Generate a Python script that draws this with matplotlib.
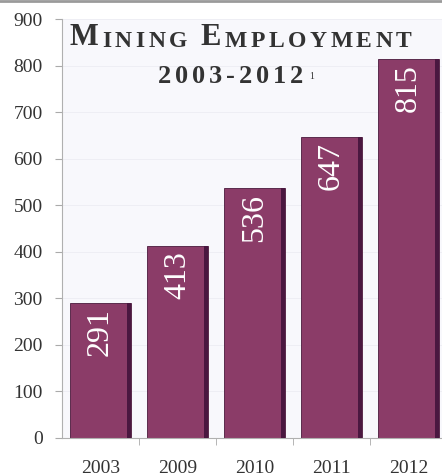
from matplotlib import pyplot as plt
from matplotlib.lines import Line2D
import numpy as np

years = ['2003', '2009', '2010', '2011', '2012']
employment = [291, 413, 536, 647, 815]
yticks = [0, 100, 200, 300, 400, 500, 600, 700, 800, 900]

bar_color = '#8b3c68'
shade_color = '#4a1740'
text_color = '#333333'
serif = 'Liberation Serif'

fig = plt.figure(figsize=(4.42, 4.76), dpi=100)
fig.patch.set_facecolor('white')
ax = fig.add_axes([62 / 442, 38 / 476, 385 / 442, 419 / 476])
ax.set_facecolor('#f8f8fc')

x = np.arange(len(years))
width = 0.78
ax.bar(x, employment, width=width, color=bar_color, edgecolor='#4a1a3c',
       linewidth=0.6, zorder=2)
# darker strip down the right side of each bar
ax.bar(x + width / 2 - 0.025, employment, width=0.05, color=shade_color,
       linewidth=0, zorder=3)

for xi, val in zip(x, employment):
    ax.annotate(str(val), xy=(xi, val), xytext=(0, -4),
                textcoords='offset points', rotation=90,
                ha='center', va='top', color='white', fontsize=23,
                family=serif, zorder=4)

ax.set_xlim(-0.5, len(years) - 0.5)
ax.set_ylim(0, 900)
ax.set_yticks(yticks)
ax.set_yticklabels([str(t) for t in yticks], family=serif, fontsize=14,
                   color=text_color)
ax.set_xticks(x)
ax.set_xticklabels(years, family=serif, fontsize=14, color=text_color)
ax.set_xticks(np.arange(len(years)) + 0.5, minor=True)
ax.tick_params(axis='x', which='major', length=0, pad=16)
ax.tick_params(axis='x', which='minor', length=5, color='#aaaaaa')
ax.tick_params(axis='y', length=5, color='#aaaaaa', pad=9)
ax.grid(axis='y', color='#ededf3', linewidth=0.6, zorder=0)
for side in ['top', 'right']:
    ax.spines[side].set_visible(False)
for side in ['left', 'bottom']:
    ax.spines[side].set_color('#b0b0b0')
    ax.spines[side].set_linewidth(0.8)


def spaced_text(parts, x0, y0, gap):
    """Draw (text, fontsize) parts letter by letter with extra tracking."""
    prev = None
    for word, size in parts:
        for ch in word:
            if prev is None:
                prev = ax.annotate(ch, xy=(x0, y0),
                                   xycoords='figure fraction', ha='left',
                                   va='baseline', fontsize=size,
                                   fontweight='bold', family=serif,
                                   color=text_color, annotation_clip=False)
            else:
                prev = ax.annotate(ch, xy=(1, 0), xycoords=prev,
                                   xytext=(gap, 0), textcoords='offset points',
                                   ha='left', va='bottom', fontsize=size,
                                   fontweight='bold', family=serif,
                                   color=text_color, annotation_clip=False)
    return prev


# small-caps title
spaced_text([('M', 22), ('INING', 17), (' ', 17), ('E', 22),
             ('MPLOYMENT', 17)], 70 / 442, 1 - 45 / 476, 2.6)
last = spaced_text([('2003-2012', 19)], 158 / 442, 1 - 83 / 476, 2.8)
ax.annotate('1', xy=(1, 0.3), xycoords=last, xytext=(4, 0),
            textcoords='offset points', ha='left', va='bottom',
            fontsize=7, family=serif, color=text_color,
            annotation_clip=False)

fig.add_artist(Line2D([0, 1], [0.997, 0.997], color='#9a9a9a', linewidth=2))

fig.savefig('out.png', dpi=100)
